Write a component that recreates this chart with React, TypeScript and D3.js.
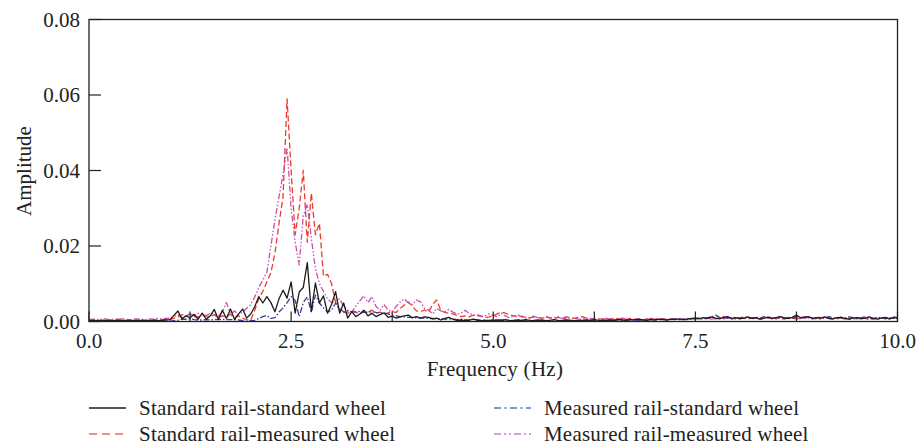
import React from "react";
import * as d3 from "d3";

// Spectrum sampled every 0.05 Hz from 0 to 10 Hz; amplitudes in units of 1e-3
const FREQ_STEP = 0.05;

const stdRailStdWheel = [
  0.2,0.3,0.2,0.2,0.3,0.2,0.2,0.3,0.2,0.2,0.3,0.2,0.2,0.3,0.2,0.2,0.3,0.2,0.3,0.4,
  0.5,1.6,2.8,0.7,1.5,1.0,1.9,0.6,2.2,0.6,1.5,3.2,0.5,3.0,0.8,3.3,0.5,2.0,3.3,0.9,2.0,
  3.9,6.6,4.9,6.6,5.0,2.6,6.0,8.3,6.2,10.5,2.2,7.8,9.0,15.6,2.6,10.2,4.9,6.8,2.2,4.5,
  7.9,2.2,4.9,0.9,2.6,1.3,2.0,3.0,1.5,2.2,1.3,1.8,2.3,1.1,1.4,0.9,1.2,1.5,1.7,1.0,
  1.3,0.9,1.2,1.1,0.7,0.9,0.4,0.8,1.1,0.6,0.3,0.4,0.2,0.3,0.6,0.4,0.2,0.3,0.2,0.3,
  0.4,0.3,0.5,0.3,0.2,0.4,0.3,0.5,0.3,0.2,0.3,0.4,0.2,0.3,0.5,0.3,0.2,0.4,0.3,0.2,
  0.3,0.2,0.4,0.3,0.5,0.3,0.2,0.3,0.4,0.3,0.5,0.4,0.3,0.5,0.4,0.6,0.4,0.3,0.5,0.4,
  0.6,0.5,0.4,0.6,0.5,0.7,0.5,0.6,0.8,
  0.9,0.7,1.0,0.8,1.2,0.9,0.7,1.1,1.3,0.8,1.0,0.7,0.9,1.2,0.8,1.0,0.6,0.9,1.1,0.8,
  1.0,1.3,0.9,0.8,1.1,1.7,1.0,1.2,1.2,0.8,1.0,0.9,1.2,0.8,0.7,1.0,1.1,0.8,0.6,0.9,
  1.0,0.7,0.9,1.2,0.8,0.6,0.9,1.1,0.7,1.0,0.9,
];

const stdRailMeasWheel = [
  0.4,0.5,0.4,0.3,0.5,0.4,0.4,0.6,0.4,0.3,0.5,0.4,0.4,0.5,0.3,0.4,0.5,0.4,0.5,0.5,
  0.5,0.8,1.2,1.8,1.5,2.0,1.3,1.2,1.6,1.4,1.3,1.8,1.0,1.5,1.2,1.9,1.0,1.5,0.8,0.5,0.3,
  3.0,6.0,8.0,10.5,13,18,26,33,59,40,23,30,40,21,34,23,26,12,12.5,10,
  5.0,3.0,2.5,2.2,2.8,2.5,2.0,2.6,2.4,3.0,2.2,2.5,2.0,2.3,2.6,2.4,3.5,4.4,5.2,4.0,
  2.8,2.6,3.0,2.5,4.5,5.7,3.0,2.4,2.2,2.0,1.6,1.3,1.5,1.2,1.6,1.8,1.4,1.0,1.2,1.5,
  2.0,2.5,2.2,1.8,1.5,1.2,1.4,1.1,0.9,1.2,1.0,0.9,1.3,1.0,0.8,1.1,0.9,1.2,1.0,0.8,
  1.1,1.3,0.9,0.7,0.8,0.6,0.7,0.5,0.6,0.9,0.7,0.5,0.6,0.8,0.5,0.6,0.4,0.7,0.5,0.6,
  0.8,0.7,0.5,0.6,0.7,0.5,0.6,0.8,0.7,
  0.7,0.9,0.6,0.8,1.0,0.7,0.9,1.3,0.8,0.6,0.9,1.1,0.8,0.7,1.0,0.9,0.6,0.8,1.2,0.9,
  0.7,1.0,0.8,1.1,0.9,0.7,0.8,1.0,1.3,0.9,0.7,0.8,1.0,0.9,0.6,0.8,1.1,0.9,0.7,0.6,
  0.9,1.0,0.8,0.6,0.7,1.1,0.9,0.7,0.8,1.0,0.8,
];

const measRailStdWheel = [
  0.1,0.1,0.2,0.1,0.1,0.2,0.1,0.1,0.1,0.2,0.1,0.1,0.2,0.1,0.1,0.1,0.2,0.1,0.1,0.1,
  0.1,0.2,0.3,0.6,0.6,0.7,0.5,0.4,0.4,0.5,0.4,0.5,0.5,0.6,0.5,0.5,0.5,0.4,0.2,0.1,0.2,
  0.3,0.8,1.3,1.6,0.8,1.0,2.5,3.6,5.0,6.6,5.6,1.3,5.0,6.5,2.5,7.0,4.9,3.6,2.5,3.0,
  4.9,3.5,2.5,2.8,2.6,2.5,2.7,2.4,2.5,2.6,2.4,2.3,2.2,2.0,1.7,1.5,1.3,1.2,1.1,1.0,
  1.0,0.9,0.9,0.8,0.8,0.7,0.8,0.6,0.7,0.6,0.5,0.6,0.5,0.4,0.5,0.4,0.3,0.4,0.3,0.4,
  0.3,0.4,0.3,0.2,0.3,0.4,0.3,0.2,0.3,0.3,0.4,0.3,0.2,0.3,0.3,0.2,0.3,0.4,0.3,0.2,
  0.3,0.3,0.4,0.3,0.2,0.3,0.4,0.3,0.3,0.4,0.5,0.3,0.4,0.5,0.4,0.3,0.5,0.4,0.6,0.4,
  0.5,0.6,0.4,0.5,0.7,0.5,0.6,0.5,0.7,
  0.8,0.9,0.7,1.0,1.2,1.7,1.1,0.9,1.0,0.8,1.1,0.9,1.2,1.0,0.8,1.1,0.9,1.3,1.0,0.8,
  1.0,1.4,0.9,1.1,0.8,1.3,1.0,0.9,1.2,0.8,1.0,1.1,0.9,1.3,1.0,0.8,1.1,0.9,1.2,1.0,
  0.8,1.0,1.2,0.9,0.7,1.0,1.1,0.8,0.9,1.2,1.0,
];

const measRailMeasWheel = [
  0.5,0.6,0.5,0.6,0.7,0.5,0.6,0.5,0.7,0.6,0.5,0.6,0.7,0.6,0.5,0.7,0.6,0.8,0.7,0.8,
  0.9,1.2,1.8,1.0,1.5,2.0,1.5,2.2,1.8,1.6,2.2,2.0,1.4,2.5,5.0,2.0,2.8,1.8,2.5,3.5,4.5,
  6.5,9.0,11,13,20,27,33,39,46,30,21,15,28,31,22,14,10,8,6,5,
  5.5,6.0,4.0,3.0,2.5,4.0,5.5,6.8,5.0,6.6,4.0,3.0,4.5,3.0,2.6,4.0,5.2,6.0,4.9,4.5,
  5.7,5.2,3.5,3.0,2.0,3.5,2.8,2.6,3.2,2.5,2.0,2.2,3.0,2.2,1.8,1.6,1.3,1.5,2.0,1.6,
  1.2,2.2,1.5,1.0,1.4,1.8,1.2,0.9,1.1,1.4,1.0,0.8,1.2,0.9,1.0,1.3,0.8,0.7,1.0,0.9,
  0.7,0.6,0.9,0.8,0.6,0.7,0.5,0.8,0.6,0.5,0.7,0.9,0.6,0.5,0.7,0.6,0.5,0.6,0.8,0.5,
  0.6,0.7,0.5,0.6,0.8,0.6,0.5,0.7,0.6,
  0.6,0.8,0.7,0.9,0.6,0.8,1.0,0.7,0.9,0.8,0.6,0.9,1.1,0.8,0.7,0.9,0.6,0.8,1.0,0.7,
  0.9,0.8,0.6,1.0,0.9,0.7,0.8,1.1,0.9,0.7,0.8,0.6,0.9,1.0,0.8,0.7,0.9,0.6,0.8,1.0,
  0.7,0.9,0.8,0.6,0.9,0.7,0.8,1.0,0.7,0.8,0.9,
];

const xTicks = [0, 1.25, 2.5, 3.75, 5, 6.25, 7.5, 8.75, 10];
const xTickLabels = [0, 2.5, 5, 7.5, 10];
const yTicks = [0, 0.02, 0.04, 0.06, 0.08];

const seriesNames = [
  "Standard rail-standard wheel",
  "Standard rail-measured wheel",
  "Measured rail-standard wheel",
  "Measured rail-measured wheel",
];

const W = 923;
const H = 447;
const M = { left: 89, right: 897.5, top: 19.5, bottom: 321.5 };
const FONT = "'Liberation Serif', 'Times New Roman', serif";
const FS = 21;

const styles = [
  { color: "#1c1c1c", dash: "none", legendColor: "#1c1c1c", legendDash: "none" },
  { color: "#ee3a2a", dash: "6,3", legendColor: "#f06a62", legendDash: "8,5" },
  { color: "#3a3c9c", dash: "6,2,1.5,2", legendColor: "#3f7fc8", legendDash: "7,3.5,2,3.5" },
  { color: "#c94fae", dash: "6,2,1.5,2,1.5,2", legendColor: "#d27cc8", legendDash: "7,3,2,3,2,3" },
];

export default function App() {
  const x = d3.scaleLinear().domain([0, 10]).range([M.left, M.right]);
  const y = d3.scaleLinear().domain([0, 0.08]).range([M.bottom, M.top]);
  const datasets = [stdRailStdWheel, stdRailMeasWheel, measRailStdWheel, measRailMeasWheel];
  const line = d3
    .line<number>()
    .x((_, i) => x(i * FREQ_STEP))
    .y((v) => y(v / 1000));

  const drawOrder = [1, 3, 2, 0];

  const legend = [
    { idx: 0, lx: 89, ly: 408 },
    { idx: 1, lx: 89, ly: 434 },
    { idx: 2, lx: 494, ly: 408 },
    { idx: 3, lx: 494, ly: 434 },
  ];

  return (
    <svg width={W} height={H} style={{ position: "absolute", left: 0, top: 0 }} fontFamily={FONT}>
      <rect width={W} height={H} fill="#fff" />
      <defs>
        <clipPath id="plot">
          <rect x={M.left} y={M.top} width={M.right - M.left} height={M.bottom - M.top} />
        </clipPath>
      </defs>
      <g clipPath="url(#plot)">
        {drawOrder.map((k) => (
          <path
            key={k}
            d={line(datasets[k]) || ""}
            fill="none"
            stroke={styles[k].color}
            strokeWidth={1.3}
            strokeDasharray={styles[k].dash}
            strokeLinejoin="round"
          />
        ))}
      </g>
      <rect
        x={M.left}
        y={M.top}
        width={M.right - M.left}
        height={M.bottom - M.top}
        fill="none"
        stroke="#222"
        strokeWidth={1.3}
      />
      {xTicks.map((t) => (
        <line key={t} x1={x(t)} x2={x(t)} y1={M.bottom} y2={M.bottom - 10} stroke="#222" strokeWidth={1.2} />
      ))}
      {yTicks.map((t) => (
        <line key={t} x1={M.left} x2={M.left + 12} y1={y(t)} y2={y(t)} stroke="#222" strokeWidth={1.2} />
      ))}
      {xTickLabels.map((t) => (
        <text key={t} x={x(t)} y={348} textAnchor="middle" fontSize={FS} fill="#222">
          {d3.format(".1f")(t)}
        </text>
      ))}
      {yTicks.map((t) => (
        <text key={t} x={80} y={y(t) + 7} textAnchor="end" fontSize={FS} fill="#222">
          {d3.format(".2f")(t)}
        </text>
      ))}
      <text x={495} y={376} textAnchor="middle" fontSize={FS} fill="#222" letterSpacing={0.3}>
        Frequency (Hz)
      </text>
      <text
        transform={`translate(31,171) rotate(-90)`}
        textAnchor="middle"
        fontSize={FS}
        fill="#222"
      >
        Amplitude
      </text>
      {legend.map(({ idx, lx, ly }) => (
        <g key={idx}>
          <line
            x1={lx}
            x2={lx + 37}
            y1={ly}
            y2={ly}
            stroke={styles[idx].legendColor}
            strokeWidth={1.5}
            strokeDasharray={styles[idx].legendDash}
          />
          <text x={lx + 50} y={ly + 6.5} fontSize={FS} fill="#222" letterSpacing={0.2}>
            {seriesNames[idx]}
          </text>
        </g>
      ))}
    </svg>
  );
}
